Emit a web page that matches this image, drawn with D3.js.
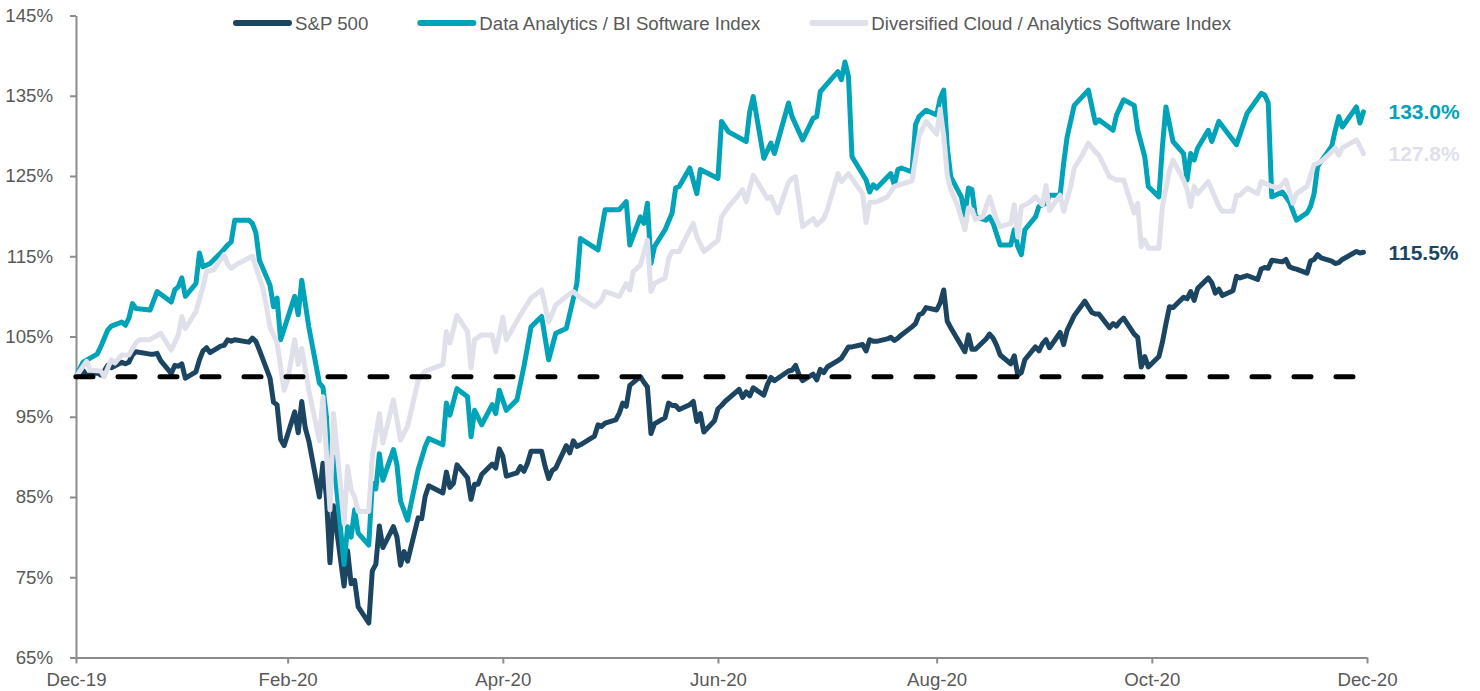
<!DOCTYPE html>
<html>
<head>
<meta charset="utf-8">
<script src="https://cdn.jsdelivr.net/npm/d3@7"></script>
<style>
  body { margin: 0; background: #fff; }
  svg text { font-family: "Liberation Sans", Arial, sans-serif; }
</style>
</head>
<body>
<svg id="chart" width="1480" height="691"></svg>
<script>
// ---- data (index level, 31-Dec-2019 = 100%) ----
const seriesNames = ["S&P 500", "Data Analytics / BI Software Index", "Diversified Cloud / Analytics Software Index"];
const seriesColors = ["#1b4561", "#00a3b8", "#e0e0eb"];
const tickDates = ["2019-12-31", "2020-02-29", "2020-04-30", "2020-06-30", "2020-08-31", "2020-10-31", "2020-12-31"];
const tickLabels = ["Dec-19", "Feb-20", "Apr-20", "Jun-20", "Aug-20", "Oct-20", "Dec-20"];
const yTicks = [65, 75, 85, 95, 105, 115, 125, 135, 145];
const baseline = 100;

const spDates = ["2019-12-31","2020-01-02","2020-01-03","2020-01-06","2020-01-07","2020-01-08","2020-01-09","2020-01-10","2020-01-13","2020-01-14","2020-01-15","2020-01-16","2020-01-17","2020-01-21","2020-01-22","2020-01-23","2020-01-24","2020-01-27","2020-01-28","2020-01-29","2020-01-30","2020-01-31",
"2020-02-03","2020-02-04","2020-02-05","2020-02-06","2020-02-07","2020-02-10","2020-02-11","2020-02-12","2020-02-13","2020-02-14","2020-02-18","2020-02-19","2020-02-20","2020-02-21","2020-02-24","2020-02-25","2020-02-26","2020-02-27","2020-02-28",
"2020-03-02","2020-03-03","2020-03-04","2020-03-05","2020-03-06","2020-03-09","2020-03-10","2020-03-11","2020-03-12","2020-03-13","2020-03-16","2020-03-17","2020-03-18","2020-03-19","2020-03-20","2020-03-23","2020-03-24","2020-03-25","2020-03-26","2020-03-27","2020-03-30","2020-03-31",
"2020-04-01","2020-04-02","2020-04-03","2020-04-06","2020-04-07","2020-04-08","2020-04-09","2020-04-13","2020-04-14","2020-04-15","2020-04-16","2020-04-17","2020-04-20","2020-04-21","2020-04-22","2020-04-23","2020-04-24","2020-04-27","2020-04-28","2020-04-29","2020-04-30",
"2020-05-01","2020-05-04","2020-05-05","2020-05-06","2020-05-07","2020-05-08","2020-05-11","2020-05-12","2020-05-13","2020-05-14","2020-05-15","2020-05-18","2020-05-19","2020-05-20","2020-05-21","2020-05-22","2020-05-26","2020-05-27","2020-05-28","2020-05-29",
"2020-06-01","2020-06-02","2020-06-03","2020-06-04","2020-06-05","2020-06-08","2020-06-09","2020-06-10","2020-06-11","2020-06-12","2020-06-15","2020-06-16","2020-06-17","2020-06-18","2020-06-19","2020-06-22","2020-06-23","2020-06-24","2020-06-25","2020-06-26","2020-06-29","2020-06-30",
"2020-07-01","2020-07-02","2020-07-06","2020-07-07","2020-07-08","2020-07-09","2020-07-10","2020-07-13","2020-07-14","2020-07-15","2020-07-16","2020-07-17","2020-07-20","2020-07-21","2020-07-22","2020-07-23","2020-07-24","2020-07-27","2020-07-28","2020-07-29","2020-07-30","2020-07-31",
"2020-08-03","2020-08-04","2020-08-05","2020-08-06","2020-08-07","2020-08-10","2020-08-11","2020-08-12","2020-08-13","2020-08-14","2020-08-17","2020-08-18","2020-08-19","2020-08-20","2020-08-21","2020-08-24","2020-08-25","2020-08-26","2020-08-27","2020-08-28","2020-08-31",
"2020-09-01","2020-09-02","2020-09-03","2020-09-04","2020-09-08","2020-09-09","2020-09-10","2020-09-11","2020-09-14","2020-09-15","2020-09-16","2020-09-17","2020-09-18","2020-09-21","2020-09-22","2020-09-23","2020-09-24","2020-09-25","2020-09-28","2020-09-29","2020-09-30",
"2020-10-01","2020-10-02","2020-10-05","2020-10-06","2020-10-07","2020-10-08","2020-10-09","2020-10-12","2020-10-13","2020-10-14","2020-10-15","2020-10-16","2020-10-19","2020-10-20","2020-10-21","2020-10-22","2020-10-23","2020-10-26","2020-10-27","2020-10-28","2020-10-29","2020-10-30",
"2020-11-02","2020-11-03","2020-11-04","2020-11-05","2020-11-06","2020-11-09","2020-11-10","2020-11-11","2020-11-12","2020-11-13","2020-11-16","2020-11-17","2020-11-18","2020-11-19","2020-11-20","2020-11-23","2020-11-24","2020-11-25","2020-11-27","2020-11-30",
"2020-12-01","2020-12-02","2020-12-03","2020-12-04","2020-12-07","2020-12-08","2020-12-09","2020-12-10","2020-12-11","2020-12-14","2020-12-15","2020-12-16","2020-12-17","2020-12-18","2020-12-21","2020-12-22","2020-12-23","2020-12-24","2020-12-28","2020-12-29","2020-12-30"];
const spValues = [100.0,100.8,100.1,100.5,100.2,100.7,101.4,101.1,101.8,101.6,101.8,102.7,103.1,102.8,102.8,102.9,102.0,100.4,101.4,101.3,101.6,99.8,
100.6,102.1,103.2,103.6,103.0,103.8,103.9,104.6,104.4,104.6,104.3,104.8,104.4,103.3,99.8,96.8,96.5,92.2,91.4,
95.6,93.0,96.9,93.6,92.0,85.0,89.2,84.9,76.8,83.9,73.9,78.3,74.2,74.6,71.3,69.3,75.8,76.6,81.4,78.7,81.3,80.0,
76.5,78.2,77.0,82.4,82.3,85.1,86.4,85.5,88.1,86.2,86.7,89.0,87.4,84.7,86.6,86.6,87.8,89.1,88.6,91.0,90.1,
87.6,88.0,88.8,88.2,89.2,90.7,90.7,88.8,87.3,88.3,88.6,91.4,90.5,92.0,91.3,91.5,92.6,94.0,93.8,94.2,
94.6,95.4,96.7,96.3,98.9,100.0,99.3,98.7,92.9,94.1,94.9,96.7,96.4,96.4,95.9,96.5,96.9,94.4,95.4,93.1,94.5,96.0,
96.4,96.9,98.4,97.4,98.1,97.6,98.6,97.7,99.0,99.9,99.5,99.8,100.7,100.8,101.4,100.2,99.5,100.3,99.6,100.9,100.5,101.2,
102.0,102.3,103.0,103.7,103.7,104.0,103.2,104.6,104.4,104.4,104.7,104.9,104.5,104.8,105.2,106.2,106.6,107.7,107.9,108.6,108.3,
109.2,110.8,106.9,106.1,103.1,105.2,103.4,103.4,104.7,105.3,104.8,103.9,102.7,101.6,102.6,100.2,100.5,102.1,103.7,103.2,104.1,
104.6,103.6,105.5,104.0,105.8,106.7,107.6,109.4,108.7,108.0,107.8,107.8,106.1,106.6,106.3,106.9,107.3,105.3,104.9,101.2,102.5,101.2,
102.5,104.3,106.6,108.7,108.6,109.9,109.7,110.6,109.5,111.0,112.3,111.7,110.4,110.9,110.1,110.7,112.5,112.3,112.6,112.1,
113.4,113.6,113.5,114.5,114.3,114.6,113.7,113.5,113.4,112.9,114.4,114.6,115.2,114.8,114.4,114.1,114.2,114.6,115.6,115.4,115.5];

const biDates = ["2019-12-31","2020-01-02","2020-01-06","2020-01-07","2020-01-09","2020-01-10","2020-01-13","2020-01-14","2020-01-15","2020-01-16","2020-01-17","2020-01-21","2020-01-23","2020-01-27","2020-01-28","2020-01-29","2020-01-30","2020-01-31",
"2020-02-03","2020-02-04","2020-02-05","2020-02-07","2020-02-10","2020-02-12","2020-02-13","2020-02-14","2020-02-18","2020-02-19","2020-02-20","2020-02-21","2020-02-24","2020-02-25","2020-02-26","2020-02-27",
"2020-03-02","2020-03-03","2020-03-04","2020-03-06","2020-03-09","2020-03-10","2020-03-11","2020-03-12","2020-03-13","2020-03-16","2020-03-17","2020-03-18","2020-03-19","2020-03-20","2020-03-23","2020-03-24","2020-03-25","2020-03-26","2020-03-27","2020-03-30","2020-03-31",
"2020-04-01","2020-04-03","2020-04-06","2020-04-08","2020-04-09","2020-04-13","2020-04-14","2020-04-15","2020-04-17","2020-04-20","2020-04-21","2020-04-22","2020-04-24","2020-04-27","2020-04-28","2020-04-29",
"2020-05-01","2020-05-04","2020-05-06","2020-05-07","2020-05-08","2020-05-11","2020-05-13","2020-05-15","2020-05-18","2020-05-21","2020-05-22","2020-05-27","2020-05-29",
"2020-06-02","2020-06-04","2020-06-05","2020-06-08","2020-06-09","2020-06-10","2020-06-11","2020-06-12","2020-06-15","2020-06-17","2020-06-18","2020-06-19","2020-06-22","2020-06-24","2020-06-25","2020-06-30",
"2020-07-01","2020-07-03","2020-07-08","2020-07-09","2020-07-10","2020-07-13","2020-07-15","2020-07-16","2020-07-20","2020-07-21","2020-07-24","2020-07-27","2020-07-28","2020-07-29","2020-07-31",
"2020-08-03","2020-08-04","2020-08-05","2020-08-06","2020-08-07","2020-08-11","2020-08-12","2020-08-13","2020-08-14","2020-08-18","2020-08-19","2020-08-20","2020-08-21","2020-08-24","2020-08-25","2020-08-26","2020-08-28","2020-08-31",
"2020-09-01","2020-09-02","2020-09-03","2020-09-04","2020-09-07","2020-09-08","2020-09-09","2020-09-10","2020-09-11","2020-09-14","2020-09-15","2020-09-16","2020-09-18","2020-09-21","2020-09-22","2020-09-23","2020-09-24","2020-09-25","2020-09-28","2020-09-29",
"2020-10-01","2020-10-02","2020-10-05","2020-10-06","2020-10-07","2020-10-09","2020-10-13","2020-10-15","2020-10-16","2020-10-20","2020-10-21","2020-10-23","2020-10-26","2020-10-27","2020-10-29","2020-10-30",
"2020-11-02","2020-11-03","2020-11-04","2020-11-06","2020-11-09","2020-11-10","2020-11-11","2020-11-12","2020-11-13","2020-11-16","2020-11-17","2020-11-19","2020-11-24","2020-11-27",
"2020-12-01","2020-12-02","2020-12-03","2020-12-04","2020-12-07","2020-12-09","2020-12-11","2020-12-14","2020-12-15","2020-12-16","2020-12-17","2020-12-21","2020-12-22","2020-12-23","2020-12-24","2020-12-28","2020-12-29","2020-12-30"];
const biValues = [100.0,101.8,102.8,103.7,105.8,106.3,106.8,106.4,107.3,109.1,108.5,108.3,110.6,109.3,110.8,111.2,112.3,110.0,
111.6,115.4,113.7,114.1,115.4,116.4,116.8,119.5,119.5,119.1,117.9,114.5,111.4,108.7,109.8,104.6,
110.0,107.7,112.0,106.2,99.2,98.7,95.0,87.0,90.0,76.6,81.3,80.0,83.4,80.5,79.0,86.7,86.0,90.4,87.1,90.9,89.0,
84.5,82.1,88.4,91.3,92.3,91.5,96.7,95.2,98.5,97.5,92.5,95.8,94.0,96.5,95.4,98.3,
95.8,97.1,101.3,103.7,106.2,107.5,102.1,105.4,106.0,111.6,117.2,115.8,120.8,
120.8,121.8,116.4,119.9,119.1,121.6,114.1,116.2,118.3,120.4,123.5,123.7,126.0,122.8,125.8,124.7,
131.8,130.5,129.3,133.0,134.9,127.2,129.1,127.8,134.1,132.4,129.5,132.2,132.4,135.5,136.5,
138.0,137.0,139.2,137.4,127.4,124.5,123.0,123.9,123.5,125.3,123.9,125.8,126.0,125.5,131.4,132.4,133.2,132.6,
134.7,135.7,128.6,124.9,122.4,120.1,123.5,123.3,119.9,119.5,119.9,119.1,116.4,116.4,118.3,116.2,115.2,118.3,119.9,121.2,
121.6,122.6,122.6,126.6,129.9,133.8,135.7,131.6,132.0,130.7,132.6,134.5,133.8,130.7,127.4,123.7,
122.4,128.7,133.6,129.3,127.8,124.5,127.8,127.0,128.5,130.7,129.3,131.8,128.9,132.8,
135.3,135.1,134.1,122.4,123.0,121.8,119.5,120.4,121.2,122.8,126.2,128.7,130.7,132.4,131.1,133.6,131.6,133.0];

const cloudDates = ["2019-12-31","2020-01-03","2020-01-04","2020-01-07","2020-01-08","2020-01-10","2020-01-11","2020-01-13","2020-01-15","2020-01-17","2020-01-18","2020-01-21","2020-01-24","2020-01-27","2020-01-29","2020-01-30","2020-01-31",
"2020-02-03","2020-02-05","2020-02-06","2020-02-08","2020-02-11","2020-02-12","2020-02-13","2020-02-15","2020-02-19","2020-02-22","2020-02-23","2020-02-24","2020-02-26","2020-02-28","2020-02-29",
"2020-03-02","2020-03-03","2020-03-04","2020-03-06","2020-03-09","2020-03-10","2020-03-11","2020-03-12","2020-03-13","2020-03-16","2020-03-17","2020-03-18","2020-03-19","2020-03-20","2020-03-23","2020-03-24","2020-03-26","2020-03-27","2020-03-30",
"2020-04-01","2020-04-03","2020-04-06","2020-04-08","2020-04-13","2020-04-14","2020-04-15","2020-04-17","2020-04-20","2020-04-21","2020-04-22","2020-04-24","2020-04-27","2020-04-28","2020-04-30",
"2020-05-01","2020-05-05","2020-05-08","2020-05-11","2020-05-13","2020-05-15","2020-05-18","2020-05-20","2020-05-22","2020-05-26","2020-05-28","2020-05-29",
"2020-06-02","2020-06-04","2020-06-05","2020-06-06","2020-06-08","2020-06-10","2020-06-11","2020-06-12","2020-06-15","2020-06-16","2020-06-17","2020-06-19","2020-06-21","2020-06-23","2020-06-24","2020-06-26","2020-06-30",
"2020-07-01","2020-07-03","2020-07-05","2020-07-07","2020-07-08","2020-07-10","2020-07-14","2020-07-15","2020-07-17","2020-07-20","2020-07-21","2020-07-22","2020-07-24","2020-07-27","2020-07-28","2020-07-30","2020-07-31",
"2020-08-03","2020-08-04","2020-08-06","2020-08-10","2020-08-11","2020-08-12","2020-08-14","2020-08-17","2020-08-19","2020-08-24","2020-08-26","2020-08-28","2020-08-31",
"2020-09-01","2020-09-02","2020-09-03","2020-09-04","2020-09-06","2020-09-08","2020-09-09","2020-09-10","2020-09-11","2020-09-13","2020-09-15","2020-09-17","2020-09-18","2020-09-21","2020-09-22","2020-09-23","2020-09-24","2020-09-26","2020-09-28","2020-09-30",
"2020-10-01","2020-10-02","2020-10-04","2020-10-05","2020-10-06","2020-10-08","2020-10-09","2020-10-11","2020-10-13","2020-10-15","2020-10-16","2020-10-19","2020-10-21","2020-10-23","2020-10-26","2020-10-27","2020-10-28","2020-10-29","2020-10-30",
"2020-11-02","2020-11-03","2020-11-05","2020-11-06","2020-11-09","2020-11-10","2020-11-11","2020-11-12","2020-11-13","2020-11-16","2020-11-19","2020-11-20","2020-11-23","2020-11-24","2020-11-25","2020-11-27","2020-11-30",
"2020-12-01","2020-12-03","2020-12-04","2020-12-06","2020-12-08","2020-12-09","2020-12-10","2020-12-11","2020-12-14","2020-12-16","2020-12-18","2020-12-20","2020-12-22","2020-12-23","2020-12-24","2020-12-28","2020-12-29","2020-12-30"];
const cloudValues = [100.0,101.9,100.8,100.7,100.0,102.1,101.7,102.7,102.7,104.2,104.6,104.6,105.4,103.3,105.2,107.5,106.0,
108.1,111.2,113.1,113.3,115.2,114.0,113.5,114.1,115.0,111.0,108.7,106.2,104.2,98.3,99.6,
104.6,101.5,103.5,98.3,92.0,97.5,90.5,83.4,95.4,81.7,88.8,85.9,85.0,83.2,83.2,90.0,95.4,91.7,97.1,
92.1,93.8,99.5,100.7,101.5,105.6,104.2,107.6,105.6,101.1,104.6,105.2,105.2,103.1,107.4,
104.6,107.7,109.8,110.8,106.8,108.9,110.0,110.6,109.8,108.7,109.5,110.6,
110.0,111.6,110.8,113.1,113.9,117.0,110.6,111.6,112.3,114.7,115.6,115.6,117.4,119.1,117.4,115.6,117.0,
119.9,121.2,122.2,123.3,121.8,125.1,122.2,122.4,120.4,124.2,124.7,124.9,118.7,119.7,118.9,119.7,120.8,
125.3,124.3,125.3,122.8,119.2,121.7,121.8,122.4,123.7,124.4,130.0,131.8,130.2,
133.3,130.0,125.1,123.3,121.2,118.3,121.0,120.8,119.6,119.9,122.4,119.5,118.7,119.1,121.4,117.4,121.2,121.6,122.4,121.4,
123.8,120.7,122.0,122.6,120.6,123.7,126.0,127.4,129.1,128.0,127.6,124.9,124.5,124.5,120.4,121.6,116.2,117.0,116.0,
116.0,121.2,125.7,127.0,124.5,123.3,121.2,123.7,122.8,124.3,121.2,120.6,120.6,122.6,122.6,123.5,122.8,
124.3,123.9,123.7,123.5,124.5,123.0,121.6,122.8,123.7,126.4,126.8,127.6,128.5,127.6,128.5,129.5,128.7,127.8];

// ---- setup ----
const parse = d3.timeParse("%Y-%m-%d");
const svg = d3.select("#chart");
const margin = { left: 76, right: 113, top: 15.5, bottom: 33.5 };
const width = 1480, height = 691;
const fontSize = 18.67;

const x = d3.scaleTime()
  .domain([parse(tickDates[0]), parse(tickDates[tickDates.length - 1])])
  .range([margin.left, width - margin.right]);
const y = d3.scaleLinear()
  .domain([65, 145])
  .range([height - margin.bottom, margin.top]);

const series = [
  { name: seriesNames[0], color: seriesColors[0], dates: spDates, values: spValues },
  { name: seriesNames[1], color: seriesColors[1], dates: biDates, values: biValues },
  { name: seriesNames[2], color: seriesColors[2], dates: cloudDates, values: cloudValues }
].map(s => ({ ...s, points: s.dates.map((d, i) => ({ date: parse(d), value: s.values[i] })) }));

const axisColor = "#8c8c8c";
const textColor = "#595959";

// x axis
const xAxis = svg.append("g")
  .attr("transform", "translate(0," + y(65) + ")")
  .call(d3.axisBottom(x)
    .tickValues(tickDates.map(parse))
    .tickFormat((d, i) => tickLabels[i])
    .tickSize(6).tickSizeOuter(0).tickPadding(9));
xAxis.selectAll("text").attr("font-size", fontSize).attr("fill", textColor);

// y axis
const yAxis = svg.append("g")
  .attr("transform", "translate(" + margin.left + ",0)")
  .call(d3.axisLeft(y)
    .tickValues(yTicks)
    .tickFormat(d => d + "%")
    .tickSize(6).tickSizeOuter(0).tickPadding(17));
yAxis.selectAll("text").attr("font-size", fontSize).attr("fill", textColor);

[xAxis, yAxis].forEach(a => {
  a.select(".domain").attr("stroke", axisColor).attr("stroke-width", 2);
  a.selectAll(".tick line").attr("stroke", axisColor).attr("stroke-width", 2);
});

// series lines
const line = d3.line()
  .x(d => x(d.date))
  .y(d => y(d.value));

svg.append("g").selectAll("path")
  .data(series)
  .join("path")
  .attr("fill", "none")
  .attr("stroke", d => d.color)
  .attr("stroke-width", 5)
  .attr("stroke-linejoin", "round")
  .attr("stroke-linecap", "round")
  .attr("d", d => line(d.points));

// 100% reference line
const sp = series[0].points;
svg.append("path")
  .datum([{ date: sp[0].date, value: baseline }, { date: sp[sp.length - 1].date, value: baseline }])
  .attr("fill", "none")
  .attr("stroke", "#000")
  .attr("stroke-width", 5)
  .attr("stroke-linecap", "round")
  .attr("stroke-dasharray", "17,25")
  .attr("d", line);

// end-of-series labels
svg.append("g").selectAll("text")
  .data(series)
  .join("text")
  .attr("x", d => x(d.points[d.points.length - 1].date) + 25)
  .attr("y", d => y(d.points[d.points.length - 1].value))
  .attr("dy", "0.35em")
  .attr("font-size", 21)
  .attr("font-weight", "bold")
  .attr("fill", d => d.color)
  .text(d => d.points[d.points.length - 1].value.toFixed(1) + "%");

// legend
const legend = svg.append("g");
let lx = 236;
series.forEach(s => {
  legend.append("line")
    .attr("x1", lx).attr("x2", lx + 53)
    .attr("y1", 23).attr("y2", 23)
    .attr("stroke", s.color)
    .attr("stroke-width", 6)
    .attr("stroke-linecap", "round");
  const t = legend.append("text")
    .attr("x", lx + 59).attr("y", 23)
    .attr("dy", "0.35em")
    .attr("font-size", fontSize)
    .attr("fill", textColor)
    .text(s.name);
  lx += 59 + t.node().getComputedTextLength() + 52;
});
</script>
</body>
</html>
